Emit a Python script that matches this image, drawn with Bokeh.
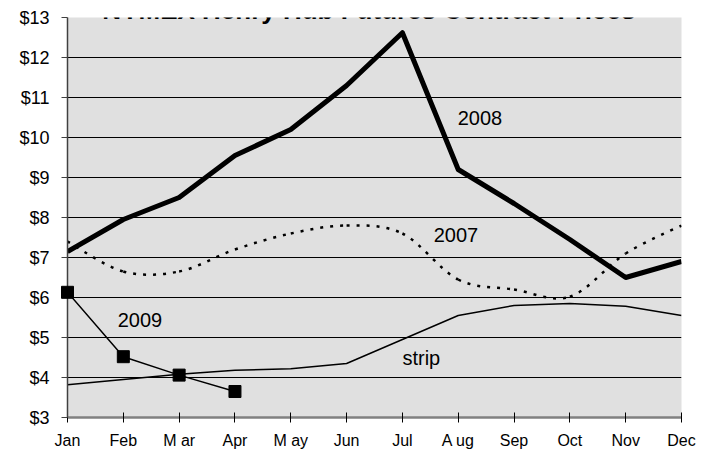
from bokeh.plotting import figure
from bokeh.models import FixedTicker, NumeralTickFormatter, Label, ColumnDataSource
from bokeh.embed import file_html
from bokeh.resources import INLINE

months = ["Jan", "Feb", "Mar", "Apr", "May", "Jun", "Jul", "Aug", "Sep", "Oct", "Nov", "Dec"]
month_labels = ["Jan", "Feb", "M ar", "Apr", "M ay", "Jun", "Jul", "A ug", "Sep", "Oct", "Nov", "Dec"]
y2008 = [7.15, 7.95, 8.50, 9.55, 10.20, 11.30, 12.62, 9.20, 8.35, 7.45, 6.50, 6.90]
y2007 = [7.40, 6.65, 6.65, 7.20, 7.60, 7.80, 7.60, 6.45, 6.20, 6.02, 7.10, 7.80]
ystrip = [3.82, 3.95, 4.08, 4.18, 4.22, 4.35, 4.95, 5.55, 5.80, 5.85, 5.78, 5.55]
y2009 = [6.13, 4.52, 4.06, 3.65]
y_ticks = [3, 4, 5, 6, 7, 8, 9, 10, 11, 12, 13]
title_text = "NYMEX Henry Hub Futures Contract Prices"

xs = list(range(len(months)))

p = figure(width=711, height=451, output_backend="svg", toolbar_location=None,
           x_range=(0, 11), y_range=(3, 13),
           min_border_left=67, min_border_right=30, min_border_top=17, min_border_bottom=33)
p.margin = (0, 0, 0, 0)
p.border_fill_color = "white"
p.outline_line_color = None
p.background_fill_color = "#e0e0e0"

# grid
p.xgrid.grid_line_color = None
p.ygrid.grid_line_color = "black"
p.ygrid.grid_line_width = 1
p.ygrid.ticker = FixedTicker(ticks=y_ticks)

# axes
p.yaxis.ticker = FixedTicker(ticks=y_ticks)
p.yaxis.formatter = NumeralTickFormatter(format="$0")
p.yaxis.major_label_text_font = "Liberation Sans"
p.yaxis.major_label_text_font_size = "18px"
p.yaxis.major_label_text_color = "black"
p.yaxis.axis_line_color = "#404040"
p.yaxis.axis_line_width = 1.5
p.yaxis.major_tick_in = 0
p.yaxis.major_tick_out = 6
p.yaxis.major_tick_line_color = "#404040"
p.yaxis.minor_tick_line_color = None
p.yaxis.major_label_standoff = 12

p.xaxis.ticker = FixedTicker(ticks=xs)
p.xaxis.major_label_overrides = {i: m for i, m in zip(xs, month_labels)}
p.xaxis.major_label_text_font = "Liberation Sans"
p.xaxis.major_label_text_font_size = "16px"
p.xaxis.major_label_text_color = "black"
p.xaxis.axis_line_color = "#808080"
p.xaxis.axis_line_width = 2.5
p.xaxis.major_tick_in = 5
p.xaxis.major_tick_out = 5
p.xaxis.major_tick_line_color = "black"
p.xaxis.minor_tick_line_color = None
p.xaxis.major_label_standoff = 9

# strip
p.line(xs, ystrip, line_color="black", line_width=1.5)

# 2007 smooth dotted curve (Bezier segments built from the data)
n = len(y2007)
x0, y0, x1, y1, cx0, cy0, cx1, cy1 = [], [], [], [], [], [], [], []
for i in range(n - 1):
    pa = (xs[max(i - 1, 0)], y2007[max(i - 1, 0)])
    pb = (xs[i], y2007[i])
    pc = (xs[i + 1], y2007[i + 1])
    pd = (xs[min(i + 2, n - 1)], y2007[min(i + 2, n - 1)])
    x0.append(pb[0]); y0.append(pb[1]); x1.append(pc[0]); y1.append(pc[1])
    cx0.append(pb[0] + (pc[0] - pa[0]) / 6); cy0.append(pb[1] + (pc[1] - pa[1]) / 6)
    cx1.append(pc[0] - (pd[0] - pb[0]) / 6); cy1.append(pc[1] - (pd[1] - pb[1]) / 6)
src07 = ColumnDataSource(dict(x0=x0, y0=y0, x1=x1, y1=y1, cx0=cx0, cy0=cy0, cx1=cx1, cy1=cy1))
p.bezier(x0="x0", y0="y0", x1="x1", y1="y1", cx0="cx0", cy0="cy0", cx1="cx1", cy1="cy1",
         source=src07, line_color="black", line_width=2.5, line_dash="3 7")

# 2008
p.line(xs, y2008, line_color="black", line_width=5, line_join="round")

# 2009
p.line(xs[:len(y2009)], y2009, line_color="black", line_width=1.5)
p.scatter(xs[:len(y2009)], y2009, marker="square", size=12, fill_color="black",
          line_color="black", level="overlay")

lab_font = "Liberation Sans"
for txt, lx, ly in [("2008", 6.99, 10.5), ("2007", 6.56, 7.56), ("2009", 0.9, 5.44), ("strip", 6.0, 4.5)]:
    p.add_layout(Label(x=lx, y=ly, text=txt, text_font=lab_font, text_font_size="20px",
                       text_baseline="middle", text_align="left", text_color="black"))

p.add_layout(Label(x=5.4, y=13, y_offset=8, text=title_text, text_font=lab_font,
                   text_font_size="26px", text_font_style="bold", text_align="center",
                   text_baseline="alphabetic", text_color="black"))

open("out.html", "w").write(file_html(p, INLINE))
